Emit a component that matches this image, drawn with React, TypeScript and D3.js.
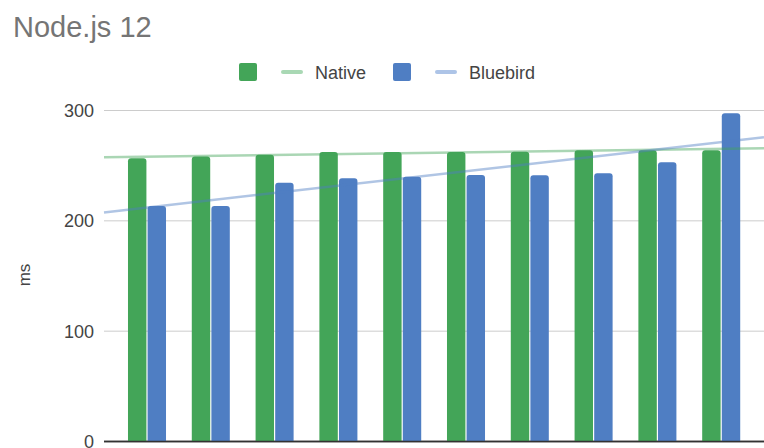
import React, { useEffect, useRef } from 'react';
import * as d3 from 'd3';

// values (ms)
const runs = ['1', '2', '3', '4', '5', '6', '7', '8', '9', '10'];
const seriesNames = ['Native', 'Bluebird'];
const nativeMs = [256.7, 258.2, 259.8, 262.5, 262.5, 262.5, 262.7, 264, 264, 264];
const bluebirdMs = [213.5, 213.5, 234.6, 238.6, 240, 241.6, 241.3, 243.1, 253.1, 297.5];
const yTicks = [0, 100, 200, 300];

const colors = ['#43a558', '#4f7ec3'];
const trendColors = ['#a9d8b4', '#adc4e7'];
const FONT = '"Liberation Sans", Arial, sans-serif';

const W = 764;
const H = 448;

// simple least squares fit over the category index
const fitLine = (vals: number[]) => {
  const mx = d3.mean(vals.map((_, i) => i)) as number;
  const my = d3.mean(vals) as number;
  let sxy = 0;
  let sxx = 0;
  vals.forEach((v, i) => {
    sxy += (i - mx) * (v - my);
    sxx += (i - mx) * (i - mx);
  });
  const slope = sxy / sxx;
  return (i: number) => my + slope * (i - mx);
};

const Chart = () => {
  const svgRef = useRef<SVGSVGElement>(null);

  useEffect(() => {
    const svg = d3.select(svgRef.current);
    svg.selectAll('*').remove();

    const plotLeft = 104;
    const plotRight = W;

    const x0 = d3
      .scaleBand<string>()
      .domain(runs)
      .range([115.1, 753.1])
      .paddingInner(0.404)
      .paddingOuter(0.202);

    const x1 = d3
      .scaleBand<string>()
      .domain(seriesNames)
      .range([0, x0.bandwidth()])
      .paddingInner(0.06);

    const y = d3.scaleLinear().domain([0, 300]).range([441.5, 110.5]);

    // index -> pixel (group centers)
    const idx = d3
      .scaleLinear()
      .domain([0, runs.length - 1])
      .range([
        (x0(runs[0]) as number) + x0.bandwidth() / 2,
        (x0(runs[runs.length - 1]) as number) + x0.bandwidth() / 2,
      ]);

    // title
    svg
      .append('text')
      .attr('x', 13)
      .attr('y', 37)
      .attr('font-family', FONT)
      .attr('font-size', 29)
      .attr('fill', '#757575')
      .text('Node.js 12');

    // legend
    const legend = svg.append('g').attr('font-family', FONT);
    const legendX = [239, 393];
    seriesNames.forEach((name, k) => {
      const lx = legendX[k];
      legend
        .append('rect')
        .attr('x', lx)
        .attr('y', 63)
        .attr('width', 18)
        .attr('height', 18)
        .attr('rx', 2)
        .attr('fill', colors[k]);
      legend
        .append('line')
        .attr('x1', lx + 44)
        .attr('x2', lx + 62)
        .attr('y1', 72)
        .attr('y2', 72)
        .attr('stroke', trendColors[k])
        .attr('stroke-width', 4)
        .attr('stroke-linecap', 'round');
      legend
        .append('text')
        .attr('x', lx + 76)
        .attr('y', 78.5)
        .attr('font-size', 18)
        .attr('fill', '#444')
        .text(name);
    });

    // gridlines + y labels
    const grid = svg.append('g');
    yTicks.forEach((t) => {
      grid
        .append('line')
        .attr('x1', plotLeft)
        .attr('x2', plotRight)
        .attr('y1', y(t))
        .attr('y2', y(t))
        .attr('stroke', t === 0 ? '#333' : '#cccccc')
        .attr('stroke-width', t === 0 ? 1.5 : 1);
      grid
        .append('text')
        .attr('x', 94)
        .attr('y', y(t) + 6.5)
        .attr('text-anchor', 'end')
        .attr('font-family', FONT)
        .attr('font-size', 18)
        .attr('fill', '#444')
        .text(t);
    });

    svg
      .append('text')
      .attr('transform', 'translate(30, 275) rotate(-90)')
      .attr('text-anchor', 'middle')
      .attr('font-family', FONT)
      .attr('font-size', 17)
      .attr('fill', '#444')
      .text('ms');

    // bars with rounded tops
    const r = 3;
    const barPath = (bx: number, by: number, bw: number, bh: number) => {
      const b = by + bh;
      return `M${bx},${b}V${by + r}Q${bx},${by} ${bx + r},${by}H${bx + bw - r}Q${bx + bw},${by} ${bx + bw},${by + r}V${b}Z`;
    };

    const seriesVals = [nativeMs, bluebirdMs];
    const bars = svg.append('g');
    runs.forEach((run, i) => {
      seriesNames.forEach((name, k) => {
        const v = seriesVals[k][i];
        const bx = (x0(run) as number) + (x1(name) as number);
        bars
          .append('path')
          .attr('d', barPath(bx, y(v), x1.bandwidth(), y(0) - y(v)))
          .attr('fill', colors[k]);
      });
    });

    // baseline on top of bars
    svg
      .append('line')
      .attr('x1', plotLeft)
      .attr('x2', plotRight)
      .attr('y1', y(0))
      .attr('y2', y(0))
      .attr('stroke', '#333')
      .attr('stroke-width', 1.5);

    // trend lines
    seriesVals.forEach((vals, k) => {
      const f = fitLine(vals);
      const i0 = idx.invert(plotLeft);
      const i1 = idx.invert(plotRight);
      const line = d3
        .line<number>()
        .x((i) => idx(i))
        .y((i) => y(f(i)));
      svg
        .append('path')
        .datum([i0, i1])
        .attr('d', line)
        .attr('fill', 'none')
        .attr('stroke', colors[k])
        .attr('stroke-opacity', 0.45)
        .attr('stroke-width', 2.5);
    });
  }, []);

  return (
    <svg
      ref={svgRef}
      width={W}
      height={H}
      style={{ position: 'absolute', left: 0, top: 0, background: '#fff' }}
    ></svg>
  );
};

export default function App() {
  return <Chart />;
}
